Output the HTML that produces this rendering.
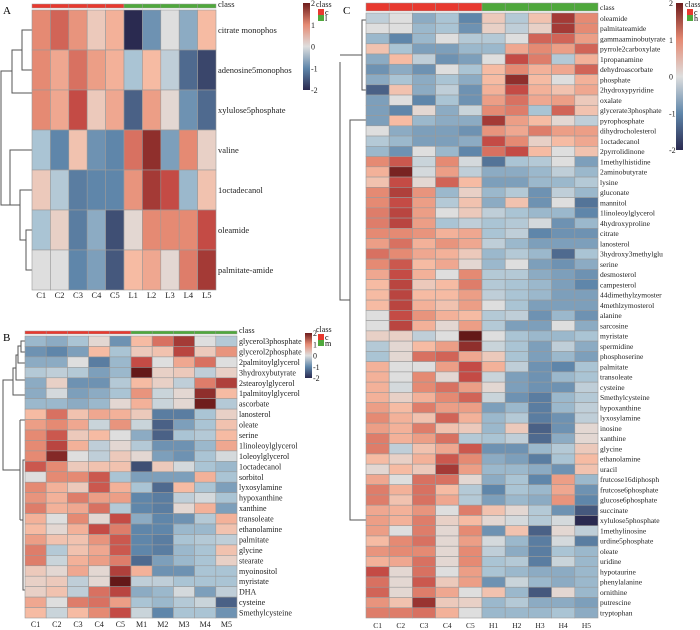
<!DOCTYPE html>
<html><head><meta charset="utf-8"><style>
body{margin:0;background:#fff;}
svg{display:block;font-family:"Liberation Serif",serif;}
</style></head><body>
<svg id="fig" width="700" height="630" viewBox="0 0 700 630">
<defs><linearGradient id="cg" x1="0" y1="1" x2="0" y2="0">
<stop offset="0" stop-color="#2a2a50"/><stop offset="0.25" stop-color="#5f86aa"/><stop offset="0.5" stop-color="#dedede"/><stop offset="0.75" stop-color="#e58a73"/><stop offset="1" stop-color="#6e1c1c"/></linearGradient></defs>
<g id="dendros" stroke="#555" stroke-width="1" fill="none">
<path d="M32,30 H22 V70 H32 M22,50 H12 V93 H32 M12,71 H1 V205 H10 V150 H32 M10,205 H20 V190 H32 M20,190 V240 H26 V230 H32 M26,230 V270 H32"/>
<path d="M25,341 H21 V352 H25 M21,346 H18 V363 H25 M18,355 H16 V380 H25 M16,368 H13 V395 H25 M13,380 H3 V470 H20 M20,420 V520 M20,420 H25 M20,520 H23 V460 H25 M23,520 V590 H25"/>
<path d="M366,20 H362 V90 H366 M362,55 H340 M340,62 V300 H350 M350,300 V120 H366 M350,300 V520 H366"/>
</g>
<g id="panels"></g>
<text x="3" y="14" font-size="11">A</text>
<text x="3" y="341" font-size="11">B</text>
<text x="343" y="14" font-size="11">C</text>
</svg>
<script>
const rowsA=["citrate monophos","adenosine5monophos","xylulose5phosphate","valine","1octadecanol","oleamide","palmitate-amide"];
const colsA=["C1","C2","C3","C4","C5","L1","L2","L3","L4","L5"];
const valsA=[
[1,1.3,0.9,0.3,0.6,-2,-0.9,0,-0.7,0.5],
[1,0.7,1.2,0.8,0.6,-0.5,0.5,-0.3,-1.3,-1.7],
[1,0.7,1.5,0.3,0.7,-1.4,0.8,0.1,-0.9,-1.3],
[-0.5,-1,0.4,-0.9,-1,1.2,2,-0.8,1,0.2],
[0.3,-0.4,-1.1,-1,-1,0.9,1.8,1.5,-0.6,0.4],
[-0.5,0.2,-1.1,-0.7,-1.6,0.1,1,1,1,1.5],
[0,0,-1,-0.8,-1.5,0.5,0.7,0.1,1.1,1.8]];
const rowsB=["glycerol3phosphate","glycerol2phosphate","2palmitoylglycerol","3hydroxybutyrate","2stearoylglycerol","1palmitoylglycerol","ascorbate","lanosterol","oleate","serine","1linoleoylglycerol","1oleoylglycerol","1octadecanol","sorbitol","lyxosylamine","hypoxanthine","xanthine","transoleate","ethanolamine","palmitate","glycine","stearate","myoinositol","myristate","DHA","cysteine","Smethylcysteine"];
const colsB=["C1","C2","C3","C4","C5","M1","M2","M3","M4","M5"];
const valsB=[
[-0.6,-0.7,-0.5,0.1,-0.9,0.5,1.2,1.8,0,-0.4],
[-0.9,-1,-0.8,0.5,-0.5,0.3,0.4,1.6,0.3,0.9],
[-0.7,-0.7,0,-1.1,-0.6,1.5,0,0.7,1.2,0],
[-0.4,-0.3,-0.4,-0.8,-0.6,2.4,0.2,0.3,-0.3,0.2],
[-0.7,0.2,-0.9,-0.9,-0.4,0.5,0.2,-0.3,1.1,1.7],
[-0.7,-0.1,-0.8,-0.7,-0.5,0.9,-0.2,0.1,2,0.5],
[-0.6,-0.6,-0.7,-0.6,0.1,0.6,-0.2,0.1,2.3,-0.4],
[0.5,1.2,0.4,0.7,0.6,0.3,-1.1,-1.1,-0.5,0.2],
[0.8,1,0.7,-0.2,0.9,-0.2,-1.4,-0.8,-0.5,0.4],
[1,1.4,0.3,0.5,0,-0.7,-1.4,-0.5,-0.4,0.5],
[1,1.6,0.6,-0.3,0.1,-0.4,-0.9,-0.9,-0.6,0.7],
[1,2.1,0,-0.3,0.3,0.1,-0.8,-0.9,-0.5,-0.1],
[1.4,1,0.3,0.4,0.4,-1.6,0.3,-0.1,-0.5,-0.6],
[0,1,1,1.4,-0.5,-0.8,-0.8,-0.8,0.6,-0.5],
[1,0.6,0.3,1.4,0.6,-0.5,-1.3,0.5,-0.5,-0.8],
[0.9,0.6,1.1,0.8,0.8,-1,-1.1,-0.3,-0.1,-0.5],
[1.1,0.6,0.7,1.2,-0.4,-1,-1.1,0.1,0.6,-0.8],
[0.6,0,1,0.1,1.5,-0.7,-1,-0.9,-0.4,0.6],
[0.5,0.1,0.6,1.5,1.1,-1,-1,-0.6,-0.6,0.4],
[0.8,0.4,0.4,0.9,1.4,-1,-1.1,-0.5,-0.4,-0.3],
[1.1,-0.4,0.4,0.7,1.4,-1,-1.1,-0.6,-0.5,0.4],
[1.1,-0.2,0.6,0.8,1.1,-1.3,-0.8,-0.6,-0.5,0.2],
[0.3,0.1,0.7,0.1,1.7,0.6,-0.9,-0.9,-0.5,-0.5],
[0.2,0.3,-0.3,0.1,2.4,-0.3,-0.3,-0.5,-0.5,-0.5],
[0.2,0.4,-0.3,1.2,1.6,-0.7,-0.6,-0.1,-0.8,-0.3],
[0.7,0,1.1,1.2,0.8,-0.5,-0.6,-0.4,-0.2,-1.4],
[0.5,-0.2,0.5,1,1.5,-0.2,-1,-0.5,-0.5,-0.9]];
const rowsC=["oleamide","palmitateamide","gammaaminobutyrate","pyrrole2carboxylate","1propanamine","dehydroascorbate","phosphate","2hydroxypyridine","oxalate","glycerate3phosphate","pyrophosphate","dihydrocholesterol","1octadecanol","2pyrrolidinone","1methylhistidine","2aminobutyrate","lysine","gluconate","mannitol","1linoleoylglycerol","4hydroxyproline","citrate","lanosterol","3hydroxy3methylglu","serine","desmosterol","campesterol","44dimethylzymoster","4methlzymosterol","alanine","sarcosine","myristate","spermidine","phosphoserine","palmitate","transoleate","cysteine","Smethylcysteine","hypoxanthine","lyxosylamine","inosine","xanthine","glycine","ethanolamine","uracil","frutcose16diphosph","frutcose6phosphate","glucose6phosphate","succinate","xylulose5phosphate","1methylinosine","urdine5phosphate","oleate","uridine","hypotaurine","phenylalanine","ornithine","putrescine","tryptophan"];
const colsC=["C1","C2","C3","C4","C5","H1","H2","H3","H4","H5"];
const valsC=[
[-0.3,0,-0.7,-0.5,-1,0.3,-0.4,0.4,1.8,1],
[0,0,-0.6,-0.5,-0.9,0.2,-0.3,0.2,1.8,1],
[-0.6,-1,-0.6,0,-0.4,-0.4,0,1.3,1.3,0.8],
[0.4,-0.5,-0.8,-0.8,-0.6,-0.6,0.7,1,0.8,1.3],
[-0.7,0.5,-0.3,-0.9,-0.8,0,1.5,1.1,-0.4,0.6],
[-0.9,-0.7,-0.9,0,-0.5,0.5,1,0.6,0.7,1.3],
[-0.7,-0.5,-0.7,-0.5,-0.7,0.5,2,0.5,0,0.6],
[-1.4,0.4,-0.7,-0.3,-0.9,0.6,1.5,0.6,0.4,0.7],
[-0.8,0,-1,-0.5,-0.9,0.8,1.2,0.7,0.8,0.3],
[-0.8,-1,0.1,-0.7,-0.2,1,1.1,-0.5,1.3,0.4],
[-0.8,0.5,-0.6,-0.7,-0.7,1.8,0.8,0.5,0.1,-0.3],
[0,-0.7,-0.8,-0.8,-0.9,0.9,0.7,1.1,0.8,0.8],
[-0.4,-0.6,-0.8,-0.8,-0.7,1.5,1,0.2,0.5,0.7],
[-0.6,-0.9,0,-0.6,-1,1.2,1.5,0.5,0,0.4],
[1,1.4,-0.2,1,-0.1,-1.2,-0.5,-0.4,0,-0.8],
[0.6,2.2,-0.1,0.8,-0.3,-0.7,-0.7,-0.6,-0.3,-0.6],
[0.4,1.5,0.1,1.3,0.5,-0.8,-0.8,-0.6,-0.6,-0.4],
[1,1.7,0.9,-0.6,0.2,-0.6,-0.4,-0.9,-0.3,-0.6],
[1,1.5,0.8,-0.4,0.4,-0.7,0.4,-0.9,0,-1.2],
[1.1,1.6,0.8,0,0.3,-0.3,-0.5,-0.6,-0.6,-1],
[1.1,1.6,0.8,-0.5,-0.3,-0.5,-0.4,-0.1,-0.9,-0.6],
[1,1,0.9,0.6,0.7,-0.5,-0.3,-1,-0.9,-0.9],
[0.8,1.2,0.6,0.9,0.7,-0.3,-0.6,-0.8,-0.8,-0.8],
[1.2,1,0.7,0.6,0.3,-0.6,-0.4,-0.6,-1.3,-0.5],
[1,1.4,0.5,0.7,0.1,-0.6,0,-0.8,-0.9,-0.7],
[0.7,1.5,0.6,0,1,-0.4,-0.4,-0.7,-0.8,-0.9],
[0.5,1.6,0.3,0.5,1.1,-0.4,-0.5,-0.6,-0.8,-1],
[0.5,1.6,0.5,0.5,0.8,-0.3,-0.5,-0.6,-0.8,-0.8],
[0.5,1.6,0.6,0.4,0.8,0,-0.5,-0.8,-0.8,-0.8],
[0,1.5,0.9,0.6,0.5,-0.4,-0.3,-0.9,-0.6,-0.9],
[0,1.6,0.6,0.1,0.8,-0.4,-0.8,-0.8,0,-0.7],
[0.2,0.2,-0.3,0,2.4,0,-0.5,-0.6,-0.6,-0.5],
[-0.4,0.1,0.5,0.8,2,-0.2,-0.5,-0.8,-0.3,-0.7],
[-0.5,0.1,1.2,1.3,0.7,0.3,-0.5,-0.8,-0.6,-0.8],
[0.6,0,0,0.8,1.5,0.6,-0.3,-0.9,-1,-0.5],
[0.6,0,1,0.1,1.5,-0.2,-0.8,-0.9,-0.6,-0.5],
[0.6,-0.1,1,1.2,0.8,0.1,-0.8,-0.9,-0.9,-0.3],
[0.6,0.2,0.6,1,1.3,-0.2,-0.9,-1.1,-0.6,-0.4],
[0.8,0.5,1.1,0.8,0.8,-0.8,-0.6,-1.1,-0.6,-0.3],
[1,0.6,0.4,1.3,0.6,-0.6,-0.4,-1.1,-0.9,-0.3],
[0.8,0.6,1.1,0.4,0.3,-0.6,0.3,-1.4,-0.9,0.1],
[1.1,0.6,0.8,1.2,-0.4,-0.5,-0.3,-1.3,-0.7,0.1],
[1.1,-0.3,0.4,0.7,1.4,-0.9,-0.9,-0.6,-0.4,0.3],
[0.5,0.2,0.6,1.4,1,-0.7,-0.8,-1.1,-0.5,0.5],
[0.1,0.5,0.3,1.8,0.8,-0.6,-0.6,-0.7,-0.9,0.4],
[0.7,0,1.2,1.2,0.1,-0.7,-0.5,-1,0.8,-0.6],
[1.1,0.6,1.2,0.5,-0.4,-1,-0.5,-0.6,0.7,-0.9],
[1.1,0.4,1.2,0.7,-0.4,-0.8,-0.6,-0.7,0.9,-1],
[0.7,0.6,0.9,0,1.1,0.4,0.1,-0.4,-0.9,-1.5],
[0.8,0.6,1.1,0.2,0.5,0.1,-0.1,-0.4,-0.1,-2],
[0.8,0,1.1,0.1,1,-0.9,0.4,-1.4,0.1,-0.3],
[0.5,1,1.2,0.1,0.8,-0.1,-0.6,-1.1,-0.1,-1.1],
[0.9,1,1,0.1,1,-0.3,-0.7,-1.1,-0.5,-0.6],
[0.6,0.7,1.2,0.1,1,-0.5,-0.4,-1.1,-0.2,-0.6],
[1.5,0.1,1.2,0,0.8,-0.5,-0.6,-0.7,-0.7,-0.6],
[1.2,0.1,1.4,0.3,0.8,-0.9,-0.2,-0.6,-0.7,-0.6],
[1.3,0.1,1.1,0.7,0,0.4,-0.6,-1.5,0.1,-0.6],
[0.9,0.4,1.9,0.3,0.2,-0.6,-0.4,-0.7,-0.7,-0.8],
[1.1,1.1,1.2,0.6,0,-0.6,-0.6,-0.6,-0.5,-0.7]];

const stops=[[-2,[42,42,80]],[-1,[95,134,170]],[-0.5,[170,196,212]],[0,[222,222,222]],[0.5,[246,187,163]],[1,[229,138,115]],[1.5,[196,75,69]],[2.4,[100,24,24]]];
function color(v){
  if(v<=stops[0][0])return 'rgb('+stops[0][1]+')';
  for(let i=1;i<stops.length;i++){
    if(v<=stops[i][0]){const a=stops[i-1],b=stops[i],t=(v-a[0])/(b[0]-a[0]);
      return 'rgb('+a[1].map((c,k)=>Math.round(c+(b[1][k]-c)*t)).join(',')+')';}
  }
  return 'rgb('+stops[stops.length-1][1]+')';
}
const NS='http://www.w3.org/2000/svg';
const root=document.getElementById('panels');
function mk(tag,attrs,parent){const e=document.createElementNS(NS,tag);for(const k in attrs)e.setAttribute(k,attrs[k]);parent.appendChild(e);return e;}
function heatmap(id,rows,cols,vals,x0,x1,y0,y1,barY,fs,colLabY){
  const g=mk('g',{},root);
  
  
  const cw=(x1-x0)/cols.length, rh=(y1-y0)/rows.length;
  cols.forEach((c,j)=>{
    const b=mk('rect',{x:x0+j*cw,y:barY,width:cw,height:y0-barY-2,fill:j<5?'#e8392f':'#4fa83c',stroke:'#999','stroke-width':0.5},g);
    
    
    const t=mk('text',{x:x0+(j+0.5)*cw,y:colLabY,'font-size':fs,'text-anchor':'middle',fill:'#222'},g);t.textContent=c;
    
    
  });
  const ct=mk('text',{x:x1+2,y:y0-3,'font-size':fs,fill:'#222'},g);ct.textContent='class';
  
  
  rows.forEach((r,i)=>{
    vals[i].forEach((v,j)=>{
      const c=mk('rect',{x:x0+j*cw,y:y0+i*rh,width:cw,height:rh,fill:color(v),stroke:'#9a9a9a','stroke-width':0.6},g);
      
      
    });
    const t=mk('text',{x:x1+2,y:y0+(i+0.5)*rh+fs*0.35,'font-size':fs,fill:'#222'},g);t.textContent=r;
    
    
  });
}
function legend(id,x,y0,y1,lx,g2,ly,gx){
  const g=mk('g',{},root);
  
  
  mk('rect',{x:x,y:y0,width:7,height:y1-y0,fill:'url(#cg)'},g);
  [2,1,0,-1,-2].forEach(v=>{const t=mk('text',{x:lx,y:y0+(2-v)/4*(y1-y0)+3,'font-size':8,fill:'#222'},g);t.textContent=v;
    
    });
  const c=mk('text',{x:gx-2,y:ly,'font-size':8,fill:'#222'},g);c.textContent='class';
  mk('rect',{x:gx,y:ly+2,width:6,height:6,fill:'#e8392f'},g);
  mk('rect',{x:gx,y:ly+8,width:6,height:6,fill:'#4fa83c'},g);
  const a=mk('text',{x:gx+7,y:ly+8,'font-size':8},g);a.textContent='c';
  const b=mk('text',{x:gx+7,y:ly+14,'font-size':8},g);b.textContent=g2;
}
heatmap('heatmap-a',rowsA,colsA,valsA,32,216,10,290,4,8.5,298);
heatmap('heatmap-b',rowsB,colsB,valsB,25,237,336,618,331,8,627);
heatmap('heatmap-c',rowsC,colsC,valsC,366,598,13,618,3,7.5,628);
legend('legend-a',303,3,90,311,'l',7,318);
legend('legend-b',305,333,378,313,'m',332,318);
legend('legend-c',676,3,150,669,'h',7,687);
</script>
</body></html>
